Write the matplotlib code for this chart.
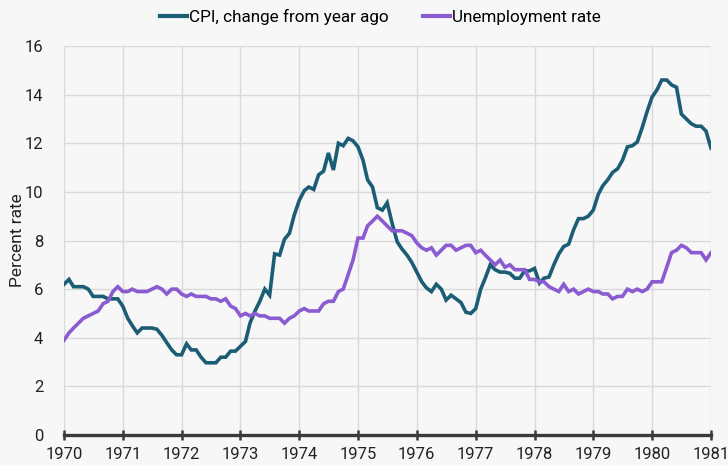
import matplotlib
matplotlib.use("Agg")
import matplotlib.pyplot as plt
import numpy as np
import pandas as pd

plt.rcParams['font.family'] = ['Roboto', 'DejaVu Sans']

cpi_1970 = [6.2, 6.4, 6.1, 6.1, 6.1, 6.0, 5.7, 5.7, 5.7, 5.6, 5.6, 5.6]
cpi_1971 = [5.3, 4.8, 4.5, 4.2, 4.4, 4.4, 4.4, 4.35, 4.1, 3.8, 3.5, 3.3]
cpi_1972 = [3.3, 3.75, 3.5, 3.5, 3.2, 2.97, 2.97, 2.97, 3.2, 3.2, 3.45, 3.45]
cpi_1973 = [3.65, 3.85, 4.6, 5.1, 5.5, 6.0, 5.75, 7.45, 7.4, 8.05, 8.3, 9.05]
cpi_1974 = [9.65, 10.05, 10.2, 10.1, 10.7, 10.85, 11.6, 10.9, 12.0, 11.9, 12.2, 12.1]
cpi_1975 = [11.85, 11.3, 10.5, 10.2, 9.35, 9.25, 9.55, 8.7, 7.95, 7.65, 7.4, 7.1]
cpi_1976 = [6.7, 6.3, 6.05, 5.9, 6.2, 6.0, 5.55, 5.75, 5.6, 5.45, 5.05, 5.0]
cpi_1977 = [5.2, 6.0, 6.45, 7.0, 6.8, 6.7, 6.7, 6.65, 6.45, 6.45, 6.75, 6.75]
cpi_1978 = [6.85, 6.25, 6.45, 6.5, 7.0, 7.45, 7.75, 7.85, 8.45, 8.9, 8.9, 9.0]
cpi_1979 = [9.25, 9.9, 10.25, 10.5, 10.8, 10.95, 11.3, 11.85, 11.9, 12.05, 12.65, 13.3]
cpi_1980 = [13.9, 14.2, 14.6, 14.6, 14.4, 14.3, 13.2, 13.0, 12.8, 12.7, 12.7, 12.5]
cpi_1981 = [11.8]

unrate_1970 = [3.9, 4.2, 4.4, 4.6, 4.8, 4.9, 5.0, 5.1, 5.4, 5.5, 5.9, 6.1]
unrate_1971 = [5.9, 5.9, 6.0, 5.9, 5.9, 5.9, 6.0, 6.1, 6.0, 5.8, 6.0, 6.0]
unrate_1972 = [5.8, 5.7, 5.8, 5.7, 5.7, 5.7, 5.6, 5.6, 5.5, 5.6, 5.3, 5.2]
unrate_1973 = [4.9, 5.0, 4.9, 5.0, 4.9, 4.9, 4.8, 4.8, 4.8, 4.6, 4.8, 4.9]
unrate_1974 = [5.1, 5.2, 5.1, 5.1, 5.1, 5.4, 5.5, 5.5, 5.9, 6.0, 6.6, 7.2]
unrate_1975 = [8.1, 8.1, 8.6, 8.8, 9.0, 8.8, 8.6, 8.4, 8.4, 8.4, 8.3, 8.2]
unrate_1976 = [7.9, 7.7, 7.6, 7.7, 7.4, 7.6, 7.8, 7.8, 7.6, 7.7, 7.8, 7.8]
unrate_1977 = [7.5, 7.6, 7.4, 7.2, 7.0, 7.2, 6.9, 7.0, 6.8, 6.8, 6.8, 6.4]
unrate_1978 = [6.4, 6.3, 6.3, 6.1, 6.0, 5.9, 6.2, 5.9, 6.0, 5.8, 5.9, 6.0]
unrate_1979 = [5.9, 5.9, 5.8, 5.8, 5.6, 5.7, 5.7, 6.0, 5.9, 6.0, 5.9, 6.0]
unrate_1980 = [6.3, 6.3, 6.3, 6.9, 7.5, 7.6, 7.8, 7.7, 7.5, 7.5, 7.5, 7.2]
unrate_1981 = [7.5]

cpi = (cpi_1970 + cpi_1971 + cpi_1972 + cpi_1973 + cpi_1974 + cpi_1975 +
       cpi_1976 + cpi_1977 + cpi_1978 + cpi_1979 + cpi_1980 + cpi_1981)
unrate = (unrate_1970 + unrate_1971 + unrate_1972 + unrate_1973 + unrate_1974 +
          unrate_1975 + unrate_1976 + unrate_1977 + unrate_1978 + unrate_1979 +
          unrate_1980 + unrate_1981)
dates = pd.date_range("1970-01-01", periods=len(cpi), freq="MS")

year_ticks = list(range(1970, 1982))
y_ticks = [0, 2, 4, 6, 8, 10, 12, 14, 16]

series_names = ["CPI, change from year ago", "Unemployment rate"]
colors = ["#1c5d76", "#8a5bd1"]
bg = "#f7f7f7"

fig = plt.figure(figsize=(7.28, 4.65), dpi=100, facecolor=bg)
ax = fig.add_axes([64/728, 1-435/465, (711-64)/728, (435-46)/465], facecolor=bg)

ax.plot(dates, cpi, color=colors[0], lw=2.6, label=series_names[0], zorder=3,
        solid_joinstyle='miter')
ax.plot(dates, unrate, color=colors[1], lw=2.6, label=series_names[1], zorder=3,
        solid_joinstyle='miter')

ax.set_xlim(pd.Timestamp("1970-01-01"), pd.Timestamp("1981-01-01"))
ax.set_ylim(0, 16)
xt = [pd.Timestamp(f"{y}-01-01") for y in year_ticks]
ax.set_xticks(xt)
ax.set_xticklabels([str(y) for y in year_ticks])
ax.set_yticks(y_ticks)
ax.set_yticklabels([str(v) for v in y_ticks])

ax.grid(True, color="#d9d9d9", lw=1.0, zorder=0)
for s in ["top", "right", "left"]:
    ax.spines[s].set_visible(False)
ax.spines["bottom"].set_color("#3a3a3a")
ax.spines["bottom"].set_linewidth(2.4)
ax.spines["bottom"].set_zorder(4)

ax.tick_params(axis="x", direction="inout", length=7, width=1.8, color="#3a3a3a",
               labelsize=12, labelcolor="#222222", pad=5)
ax.tick_params(axis="y", length=0, labelsize=12, labelcolor="#222222", pad=15)

ax.set_ylabel("Percent rate", fontsize=12.5, color="#222222")
ax.yaxis.set_label_coords(-0.061, 0.5)

leg = fig.legend(loc="upper center", bbox_to_anchor=(0.522, 1.0), ncol=2, frameon=False,
                 fontsize=12.3, handlelength=1.6, handletextpad=0.1, columnspacing=2.0,
                 borderaxespad=0.15)
for line in leg.get_lines():
    line.set_linewidth(3)

fig.savefig("out.png", dpi=100, facecolor=bg)
